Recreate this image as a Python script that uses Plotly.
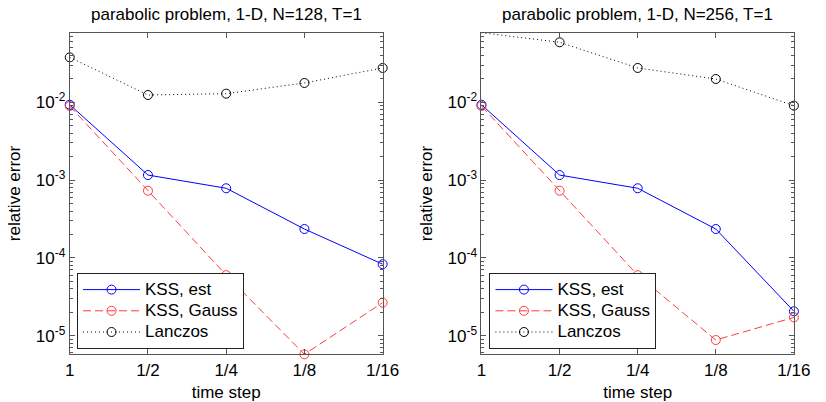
import plotly.graph_objects as go

steps = ["1", "1/2", "1/4", "1/8", "1/16"]

# N=128
est_128 = [9.3e-3, 1.16e-3, 7.85e-4, 2.35e-4, 8.3e-5]
gauss_128 = [8.96e-3, 7.3e-4, 6.0e-5, 5.77e-6, 2.66e-5]
lanczos_128 = [3.78e-2, 1.24e-2, 1.29e-2, 1.77e-2, 2.76e-2]

# N=256
est_256 = [9.3e-3, 1.16e-3, 7.85e-4, 2.35e-4, 2.06e-5]
gauss_256 = [8.96e-3, 7.3e-4, 6.0e-5, 8.8e-6, 1.72e-5]
lanczos_256 = [7.84e-2, 5.9e-2, 2.76e-2, 1.99e-2, 9.04e-3]

series_names = ["KSS, est", "KSS, Gauss", "Lanczos"]
titles = ["parabolic problem, 1-D, N=128, T=1", "parabolic problem, 1-D, N=256, T=1"]
ytickvals = [1e-5, 1e-4, 1e-3, 1e-2]
yticktext = ["10<sup>-5</sup>", "10<sup>-4</sup>", "10<sup>-3</sup>", "10<sup>-2</sup>"]

W, H = 826, 402
FONT = "Liberation Sans, Arial, sans-serif"
FS = 17

fig = go.Figure()

styles = [
    dict(color="#0000ff", dash="solid"),
    dict(color="#ff3a3a", dash="8px,4px"),
    dict(color="#000000", dash="1px,3px"),
]

series = [
    ((est_128, gauss_128, lanczos_128), "x", "y", "legend"),
    ((est_256, gauss_256, lanczos_256), "x2", "y2", "legend2"),
]
for vals, xa, ya, lg in series:
    for name, v, st in zip(series_names, vals, styles):
        fig.add_trace(go.Scatter(
            x=steps, y=v, name=f'<span style="font-size:{FS}px">{name}</span>',
            xaxis=xa, yaxis=ya, legend=lg, mode="lines+markers", cliponaxis=False,
            line=dict(color=st["color"], width=1, dash=st["dash"]),
            marker=dict(symbol="circle-open", size=9, color=st["color"], line=dict(width=1))))

ytop, ybot = 32.7, 354.3
ydom = [1 - ybot / H, 1 - ytop / H]
xdoms = [[66.5 / W, 388 / W], [489.5 / W, 810.5 / W]]

axis_common = dict(showgrid=False, zeroline=False, showline=True, linecolor="#555555", linewidth=1,
                   mirror="ticks", ticks="inside", tickcolor="#555555", ticklen=5,
                   tickfont=dict(family=FONT, size=FS, color="#000000"))

layout = dict(width=W, height=H, margin=dict(l=0, r=0, t=0, b=0),
              plot_bgcolor="white", paper_bgcolor="white",
              font=dict(family=FONT, size=FS, color="#000000"), annotations=[])

for i, (xd, suffix) in enumerate(zip(xdoms, ["", "2"])):
    layout["xaxis" + suffix] = dict(axis_common, domain=xd, type="category", range=[0, 4],
                                    anchor="y" + suffix,
                                    title=dict(text="time step", font=dict(family=FONT, size=FS), standoff=7))
    layout["yaxis" + suffix] = dict(axis_common, domain=ydom, type="log", range=[-5.239, -1.106],
                                    anchor="x" + suffix, tickvals=ytickvals, ticktext=yticktext,
                                    minor=dict(ticks="inside", ticklen=3, tickcolor="#555555",
                                               dtick="D1", showgrid=False),
                                    title=dict(text="relative error", font=dict(family=FONT, size=FS), standoff=10))
    layout["annotations"].append(dict(text=titles[i], x=(xd[0] + xd[1]) / 2, y=1 - 15 / H,
                                      xref="paper", yref="paper", showarrow=False,
                                      xanchor="center", yanchor="middle",
                                      font=dict(family=FONT, size=FS, color="#000000")))

legend_common = dict(bgcolor="white", bordercolor="#222222", borderwidth=1,
                     font=dict(family=FONT, size=14, color="#000000"),
                     xanchor="left", yanchor="top", tracegroupgap=0, itemwidth=57)
layout["legend"] = dict(legend_common, x=74 / W, y=1 - 273 / H)
layout["legend2"] = dict(legend_common, x=497.7 / W, y=1 - 273 / H)

fig.update_layout(**layout)
fig.write_html("out.html", post_script="document.body.style.margin='0px';",
               config={"displayModeBar": False})
